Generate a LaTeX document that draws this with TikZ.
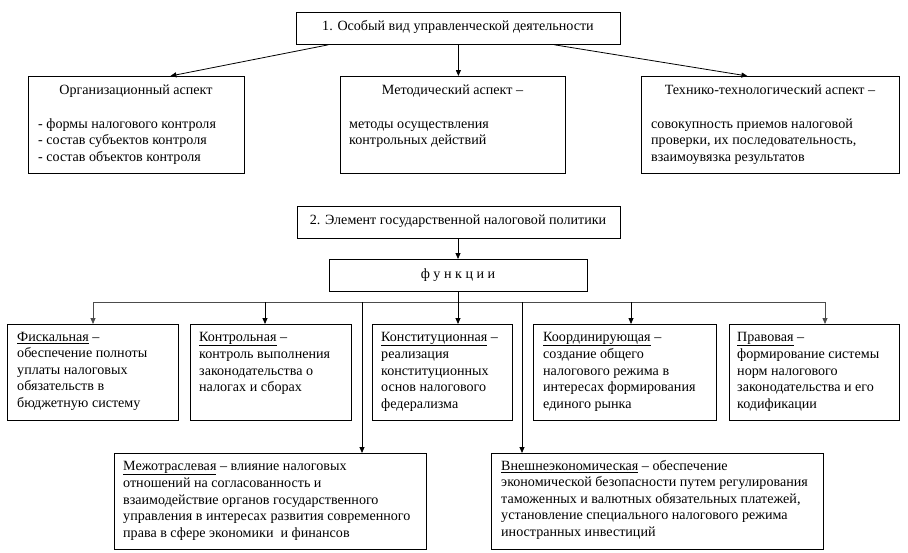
\documentclass[tikz,border=0pt]{standalone}
\usepackage{fontspec}
\setmainfont{Liberation Serif}
\usetikzlibrary{arrows.meta}
\newcommand{\fs}{\fontsize{14.1}{16.5}\selectfont}
\begin{document}
\begin{tikzpicture}[x=1pt,y=-1pt,
  box/.style={draw,line width=0.8pt,inner sep=0,anchor=north west},
  txt/.style={inner sep=0,anchor=north west,align=left,font=\fs},
  ctxt/.style={inner sep=0,anchor=north,align=center,font=\fs},
  arr/.style={line width=0.8pt,-{Triangle[length=6pt,width=5pt]}},
  ln/.style={line width=0.8pt},
  gln/.style={line width=0.8pt,draw=black!70}]
\useasboundingbox (0,0) rectangle (908,552);
% top part
\node[box,minimum width=324,minimum height=32] (b1) at (296,12) {};
\node[ctxt] (t1) at (458,18.5) {\strut 1. Особый вид управленческой деятельности};
\node[box,minimum width=216,minimum height=97] (org) at (28,76) {};
\node[ctxt] (orgh) at (136,82.5) {\strut Организационный аспект};
\node[txt] (orgt) at (38,116.5) {\strut - формы налогового контроля\\\strut - состав субъектов контроля\\\strut - состав объектов контроля};
\node[box,minimum width=225,minimum height=97] (met) at (340,76) {};
\node[ctxt] (meth) at (452.5,82.5) {\strut Методический аспект –};
\node[txt] (mett) at (349,116.5) {\strut методы осуществления\\\strut контрольных действий};
\node[box,minimum width=258,minimum height=97] (tec) at (641,76) {};
\node[ctxt] (tech) at (770,82.5) {\strut Технико-технологический аспект –};
\node[txt] (tect) at (651,116.5) {\strut совокупность приемов налоговой\\\strut проверки, их последовательность,\\\strut взаимоувязка результатов};
\draw[arr] ([xshift=-130]b1.south) -- ([xshift=34]org.north);
\draw[arr] (b1.south) -- (b1.south |- met.north);
\draw[arr] ([xshift=96]b1.south) -- ([xshift=-23]tec.north);
% second part
\node[box,minimum width=323,minimum height=32] (b2) at (297,206) {};
\node[ctxt] (t2) at (458,212.5) {\strut 2. Элемент государственной налоговой политики};
\node[box,minimum width=258,minimum height=32] (fn) at (329,259) {};
\node[ctxt] (tfn) at (458,266.5) {\strut ф у н к ц и и};
\draw[arr] (b2.south -| tfn.north) -- (fn.north -| tfn.north);
\coordinate (hub) at (458,302);
\coordinate (hl) at (93,302);
\coordinate (hr) at (825,302);
\draw[ln] (fn.south -| hub) -- (hub);
\draw[gln] (hl) -- (hr);
% function boxes
\node[box,minimum width=171,minimum height=96] (fis) at (7,324) {};
\node[txt] (fist) at (17,329.5) {\strut\underline{Фискальная} –\\\strut обеспечение полноты\\\strut уплаты налоговых\\\strut обязательств в\\\strut бюджетную систему};
\node[box,minimum width=161,minimum height=96] (ctl) at (190,324) {};
\node[txt] (ctlt) at (199,329.5) {\strut\underline{Контрольная} –\\\strut контроль выполнения\\\strut законодательства о\\\strut налогах и сборах};
\node[box,minimum width=140,minimum height=96] (con) at (372,324) {};
\node[txt] (cont) at (381,329.5) {\strut\underline{Конституционная} –\\\strut реализация\\\strut конституционных\\\strut основ налогового\\\strut федерализма};
\node[box,minimum width=183,minimum height=96] (crd) at (533,324) {};
\node[txt] (crdt) at (543,329.5) {\strut\underline{Координирующая} –\\\strut создание общего\\\strut налогового режима в\\\strut интересах формирования\\\strut единого рынка};
\node[box,minimum width=170,minimum height=96] (prv) at (729,324) {};
\node[txt] (prvt) at (737,329.5) {\strut\underline{Правовая} –\\\strut формирование системы\\\strut норм налогового\\\strut законодательства и его\\\strut кодификации};
\draw[arr,draw=black!70] (hl) -- (hl |- fis.north);
\draw[arr] (265,302) -- (265,324);
\draw[arr] (hub) -- (hub |- con.north);
\draw[arr] (631,302) -- (631,324);
\draw[arr,draw=black!70] (hr) -- (hr |- prv.north);
% bottom boxes
\node[box,minimum width=312,minimum height=96] (mej) at (114,453) {};
\node[txt] (mejt) at (123,458.5) {\strut\underline{Межотраслевая} – влияние налоговых\\\strut отношений на согласованность и\\\strut взаимодействие органов государственного\\\strut управления в интересах развития современного\\\strut права в сфере экономики~ и финансов};
\node[box,minimum width=332,minimum height=96] (vne) at (491,453) {};
\node[txt] (vnet) at (501,458.5) {\strut\underline{Внешнеэкономическая} – обеспечение\\\strut экономической безопасности путем регулирования\\\strut таможенных и валютных обязательных платежей,\\\strut установление специального налогового режима\\\strut иностранных инвестиций};
\draw[arr] (362,302) -- (362,453);
\draw[arr] (522,302) -- (522,453);
\end{tikzpicture}
\end{document}
